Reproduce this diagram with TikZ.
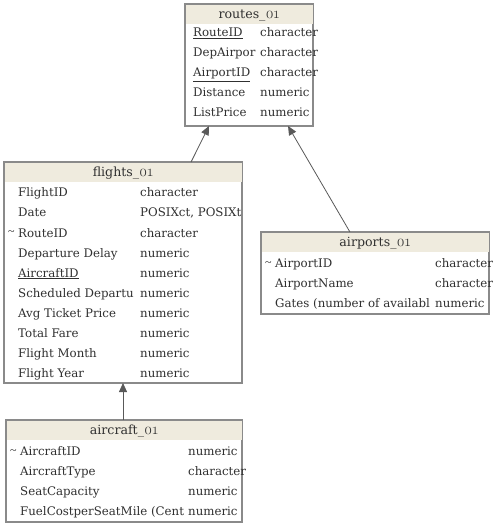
\documentclass[tikz,border=0pt]{standalone}
\usepackage{fontspec}
\setmainfont{DejaVu Serif}
\newfontfamily\osf{Latin Modern Roman}[Numbers=OldStyle,Scale=1.25]
\newfontfamily\tildefont{Liberation Serif}
\usetikzlibrary{arrows.meta,calc}
\definecolor{hdr}{HTML}{EFEBDE}
\definecolor{brd}{HTML}{8A8A8A}
\definecolor{txtc}{HTML}{303030}
\definecolor{arr}{HTML}{595959}
\newcommand\ost[1]{{\osf #1}}
\newcommand\tld{{\tildefont\fontsize{12}{14}\selectfont\textasciitilde}}
\begin{document}
\begin{tikzpicture}[x=1pt,y=-1pt,
  tbl/.style={draw=brd,line width=1.3pt,fill=white,anchor=north west,inner sep=0,outer sep=0},
  hd/.style={fill=hdr,anchor=north west,inner sep=0,outer sep=0},
  txt/.style={anchor=base west,inner sep=0,font=\fontsize{11.8}{14}\selectfont,text=txtc},
  ttl/.style={anchor=base,inner sep=0,font=\fontsize{12.6}{15}\selectfont,text=txtc},
  conn/.style={draw=arr,line width=0.8pt,-{Triangle[length=9pt,width=8pt]}}]
\useasboundingbox (0,0) rectangle (493,526);
% routes
\node[tbl,minimum width=128pt,minimum height=122pt] (routes) at (185,4) {};
\node[hd,minimum width=127pt,minimum height=19.5pt] (routesh) at (185.6,4.6) {};
\node[ttl] (routest) at (249,18.5) {routes\_\ost{01}};
\node[txt] (r1n) at (193,37) {\underline{RouteID}};
\node[txt] (r1t) at (260,37) {character};
\node[txt] (r2n) at (193,57) {DepAirpor};
\node[txt] (r2t) at (260,57) {character};
\node[txt] (r3n) at (193,77) {\underline{AirportID}};
\node[txt] (r3t) at (260,77) {character};
\node[txt] (r4n) at (193,97) {Distance};
\node[txt] (r4t) at (260,97) {numeric};
\node[txt] (r5n) at (193,117) {ListPrice};
\node[txt] (r5t) at (260,117) {numeric};
% flights
\node[tbl,minimum width=238pt,minimum height=221pt] (flights) at (4,162) {};
\node[hd,minimum width=237pt,minimum height=19.5pt] (flightsh) at (4.6,162.6) {};
\node[ttl] (flightst) at (123,176.5) {flights\_\ost{01}};
\node[txt] (f1n) at (18,197) {FlightID};
\node[txt] (f1t) at (140,197) {character};
\node[txt] (f2n) at (18,217) {Date};
\node[txt] (f2t) at (140,217) {POSIXct, POSIXt};
\node[txt] (f3m) at (8,236) {\tld};
\node[txt] (f3n) at (18,237) {RouteID};
\node[txt] (f3t) at (140,237) {character};
\node[txt] (f4n) at (18,257) {Departure Delay};
\node[txt] (f4t) at (140,257) {numeric};
\node[txt] (f5n) at (18,277) {\underline{AircraftID}};
\node[txt] (f5t) at (140,277) {numeric};
\node[txt] (f6n) at (18,297) {Scheduled Departu};
\node[txt] (f6t) at (140,297) {numeric};
\node[txt] (f7n) at (18,317) {Avg Ticket Price};
\node[txt] (f7t) at (140,317) {numeric};
\node[txt] (f8n) at (18,337) {Total Fare};
\node[txt] (f8t) at (140,337) {numeric};
\node[txt] (f9n) at (18,357) {Flight Month};
\node[txt] (f9t) at (140,357) {numeric};
\node[txt] (f10n) at (18,377) {Flight Year};
\node[txt] (f10t) at (140,377) {numeric};
% airports
\node[tbl,minimum width=228pt,minimum height=82pt] (airports) at (261,232) {};
\node[hd,minimum width=227pt,minimum height=19.5pt] (airportsh) at (261.6,232.6) {};
\node[ttl] (airportst) at (375,246.5) {airports\_\ost{01}};
\node[txt] (a1m) at (265,266) {\tld};
\node[txt] (a1n) at (275,267) {AirportID};
\node[txt] (a1t) at (435,267) {character};
\node[txt] (a2n) at (275,287) {AirportName};
\node[txt] (a2t) at (435,287) {character};
\node[txt] (a3n) at (275,307) {Gates (number of availabl};
\node[txt] (a3t) at (435,307) {numeric};
% aircraft
\node[tbl,minimum width=236pt,minimum height=102pt] (aircraft) at (6,420) {};
\node[hd,minimum width=235pt,minimum height=19.5pt] (aircrafth) at (6.6,420.6) {};
\node[ttl] (aircraftt) at (124,434.5) {aircraft\_\ost{01}};
\node[txt] (c1m) at (10,454) {\tld};
\node[txt] (c1n) at (20,455) {AircraftID};
\node[txt] (c1t) at (188,455) {numeric};
\node[txt] (c2n) at (20,475) {AircraftType};
\node[txt] (c2t) at (188,475) {character};
\node[txt] (c3n) at (20,495) {SeatCapacity};
\node[txt] (c3t) at (188,495) {numeric};
\node[txt] (c4n) at (20,515) {FuelCostperSeatMile (Cent};
\node[txt] (c4t) at (188,515) {numeric};
% connectors
\draw[conn] ($(flights.north west)!0.786!(flights.north east)$) -- ($(routes.south west)!0.1875!(routes.south east)$);
\draw[conn] ($(airports.north west)!0.39!(airports.north east)$) -- ($(routes.south west)!0.805!(routes.south east)$);
\draw[conn] (aircraft.north -| flights.south) -- (flights.south);
\end{tikzpicture}
\end{document}
